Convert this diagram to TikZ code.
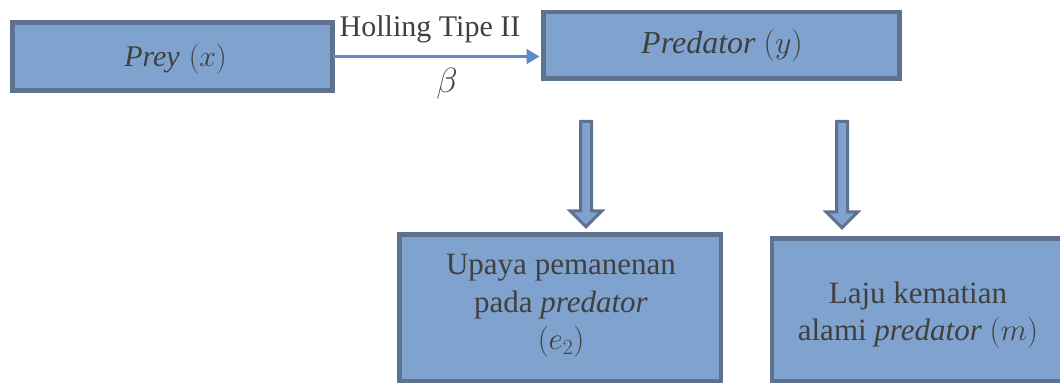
\RequirePackage{fix-cm}
\documentclass[tikz,border=0pt]{standalone}
\usepackage{fontspec}
\setmainfont{Liberation Serif}
\usetikzlibrary{arrows.meta,calc}
\definecolor{boxfill}{RGB}{127,163,206}
\definecolor{boxline}{RGB}{94,114,143}
\definecolor{txt}{RGB}{64,64,64}
\definecolor{conn}{RGB}{92,139,199}
\tikzset{
  box/.style={draw=boxline, fill=boxfill, line width=4.5pt, outer sep=0pt, inner sep=0pt, line join=miter},
  lbl/.style={text=txt, inner sep=0pt, align=center, font=\fontsize{30}{37.5}\selectfont},
  link/.style={draw=conn, line width=2.2pt, -{Triangle[length=13pt,width=15pt]}},
  blockarrow/.style={draw=boxline, fill=boxfill, line width=3pt, line join=miter}
}
\begin{document}
\begin{tikzpicture}[x=1pt,y=-1pt]
\useasboundingbox (0,0) rectangle (1060,385);
\clip (0,0) rectangle (1060,385);
% boxes
\node[box, minimum width=320pt, minimum height=68pt] (prey) at (172.5,56.5) {};
\node[box, minimum width=356pt, minimum height=66.5pt] (pred) at (721.5,45.25) {};
\node[box, minimum width=321.5pt, minimum height=146.5pt] (harv) at (560,307.5) {};
\node[box, minimum width=294pt, minimum height=142.5pt] (mort) at (919,309.5) {};
% texts
\node[lbl] (preytext) at (175.5,59) {\textit{Prey}\hspace{9pt}$(x)$};
\node[lbl, font=\fontsize{32}{38}\selectfont] (predtext) at (722,46) {\textit{Predator} $(y)$};
\node[lbl, font=\fontsize{31}{37.5}\selectfont] (harvtext) at (561,306) {Upaya pemanenan\\pada \textit{predator}\\$(e_2)$};
\node[lbl, font=\fontsize{31}{37.5}\selectfont] (morttext) at (918,315) {Laju kematian\\alami \textit{predator} $(m)$};
% connector
\draw[link, shorten >=4pt] (prey.east) -- (prey.east -| pred.west);
\node[lbl, anchor=base] (holling) at (430,37) {Holling Tipe II};
\node[lbl, font=\fontsize{35}{40}\selectfont] (beta) at (447,84) {$\beta$};
% block arrows
\coordinate (a1) at (586,121.5);
\coordinate (a2) at (842,121.5);
\coordinate (t1) at ($(a1 |- harv.north)+(0,-7.5)$);
\coordinate (t2) at ($(a2 |- mort.north)+(0,-10.5)$);
\foreach \a/\t in {a1/t1,a2/t2}{
  \draw[blockarrow] ($(\a)+(-5.5,0)$) -- ($(\t)+(-5.5,-16)$) -- ($(\t)+(-16,-16)$) -- (\t)
     -- ($(\t)+(16,-16)$) -- ($(\t)+(5.5,-16)$) -- ($(\a)+(5.5,0)$) -- cycle;
}
\end{tikzpicture}
\end{document}
